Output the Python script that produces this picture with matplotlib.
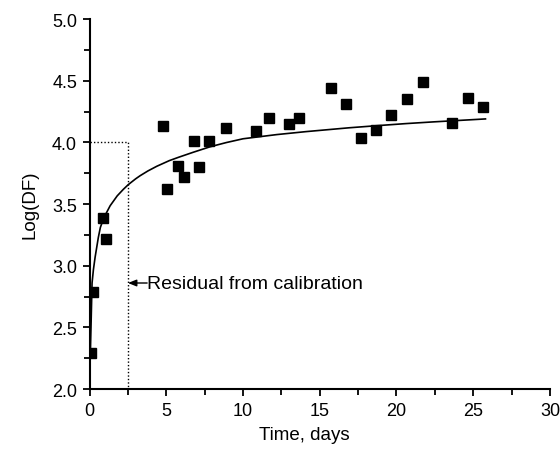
import matplotlib
matplotlib.use("Agg")
import matplotlib.pyplot as plt
from matplotlib.ticker import MultipleLocator, FormatStrFormatter

# measured points
time_days = [0.1, 0.2, 0.87, 1.09, 4.78, 5.06, 5.76, 6.13, 6.78, 7.13, 7.78, 8.91,
             10.83, 11.7, 13.0, 13.65, 15.7, 16.7, 17.67, 18.67, 19.67, 20.7,
             21.76, 23.6, 24.67, 25.65]
log_df = [2.29, 2.79, 3.39, 3.22, 4.13, 3.62, 3.81, 3.72, 4.01, 3.80, 4.01, 4.12,
          4.09, 4.20, 4.15, 4.20, 4.44, 4.31, 4.04, 4.10, 4.22, 4.35,
          4.49, 4.16, 4.36, 4.29]

# fitted curve
fit_x = [0.03, 0.1, 0.16, 0.25, 0.36, 0.57, 0.7, 0.9, 1.1, 1.34, 1.8, 2.2, 2.53,
         3.0, 3.3, 3.8, 4.38, 5.2, 5.8, 6.74, 7.85, 8.9, 10.0, 12.2, 14.1, 16.9,
         18.7, 20.6, 22.4, 25.8]
fit_y = [2.2, 2.55, 2.86, 2.97, 3.07, 3.23, 3.31, 3.38, 3.43, 3.487, 3.567, 3.62,
         3.659, 3.705, 3.731, 3.769, 3.807, 3.853, 3.88, 3.92, 3.965, 3.999,
         4.03, 4.064, 4.088, 4.119, 4.136, 4.153, 4.167, 4.191]

# calibration window (dotted box) and annotation
calib_x = [0, 2.5, 2.5]
calib_y = [4.0, 4.0, 2.0]
note_text = "Residual from calibration"
note_xy = (2.5, 2.86)
note_text_xy = (3.75, 2.86)

plt.rcParams["font.family"] = ["Liberation Sans", "DejaVu Sans"]

fig = plt.figure(figsize=(5.6, 4.56), dpi=100)
ax = fig.add_axes([0.160, 0.1447, 0.822, 0.811])

ax.plot(fit_x, fit_y, color="black", linewidth=1.2, zorder=2)
ax.plot(time_days, log_df, linestyle="none", marker="s", markersize=6.5,
        color="black", zorder=3)
ax.plot(calib_x, calib_y, color="black", linestyle=(0, (1, 1.5)), linewidth=1.0, zorder=1)

ax.annotate("", xy=note_xy, xytext=note_text_xy,
            arrowprops=dict(arrowstyle="-|>,head_length=0.5,head_width=0.2",
                            color="black", linewidth=1.0, shrinkA=0, shrinkB=0))
ax.text(note_text_xy[0] + 0.02, note_text_xy[1], note_text, fontsize=14,
        va="center", ha="left")

ax.set_xlim(0, 30)
ax.set_ylim(2.0, 5.0)
ax.xaxis.set_major_locator(MultipleLocator(5))
ax.xaxis.set_minor_locator(MultipleLocator(2.5))
ax.yaxis.set_major_locator(MultipleLocator(0.5))
ax.yaxis.set_minor_locator(MultipleLocator(0.25))
ax.yaxis.set_major_formatter(FormatStrFormatter("%.1f"))

for side in ("top", "right"):
    ax.spines[side].set_visible(False)
for side in ("left", "bottom"):
    ax.spines[side].set_linewidth(1.5)

ax.tick_params(which="major", direction="out", length=5, width=1.3,
               labelsize=13, pad=4)
ax.tick_params(which="minor", direction="out", length=4, width=1.3)

fig.text(304 / 560, 1 - 436 / 456, "Time, days", fontsize=13.5, ha="center", va="center")
fig.text(30 / 560, 1 - 205 / 456, "Log(DF)", fontsize=13.5, ha="center", va="center",
         rotation=90)

fig.savefig("out.png", dpi=100)
